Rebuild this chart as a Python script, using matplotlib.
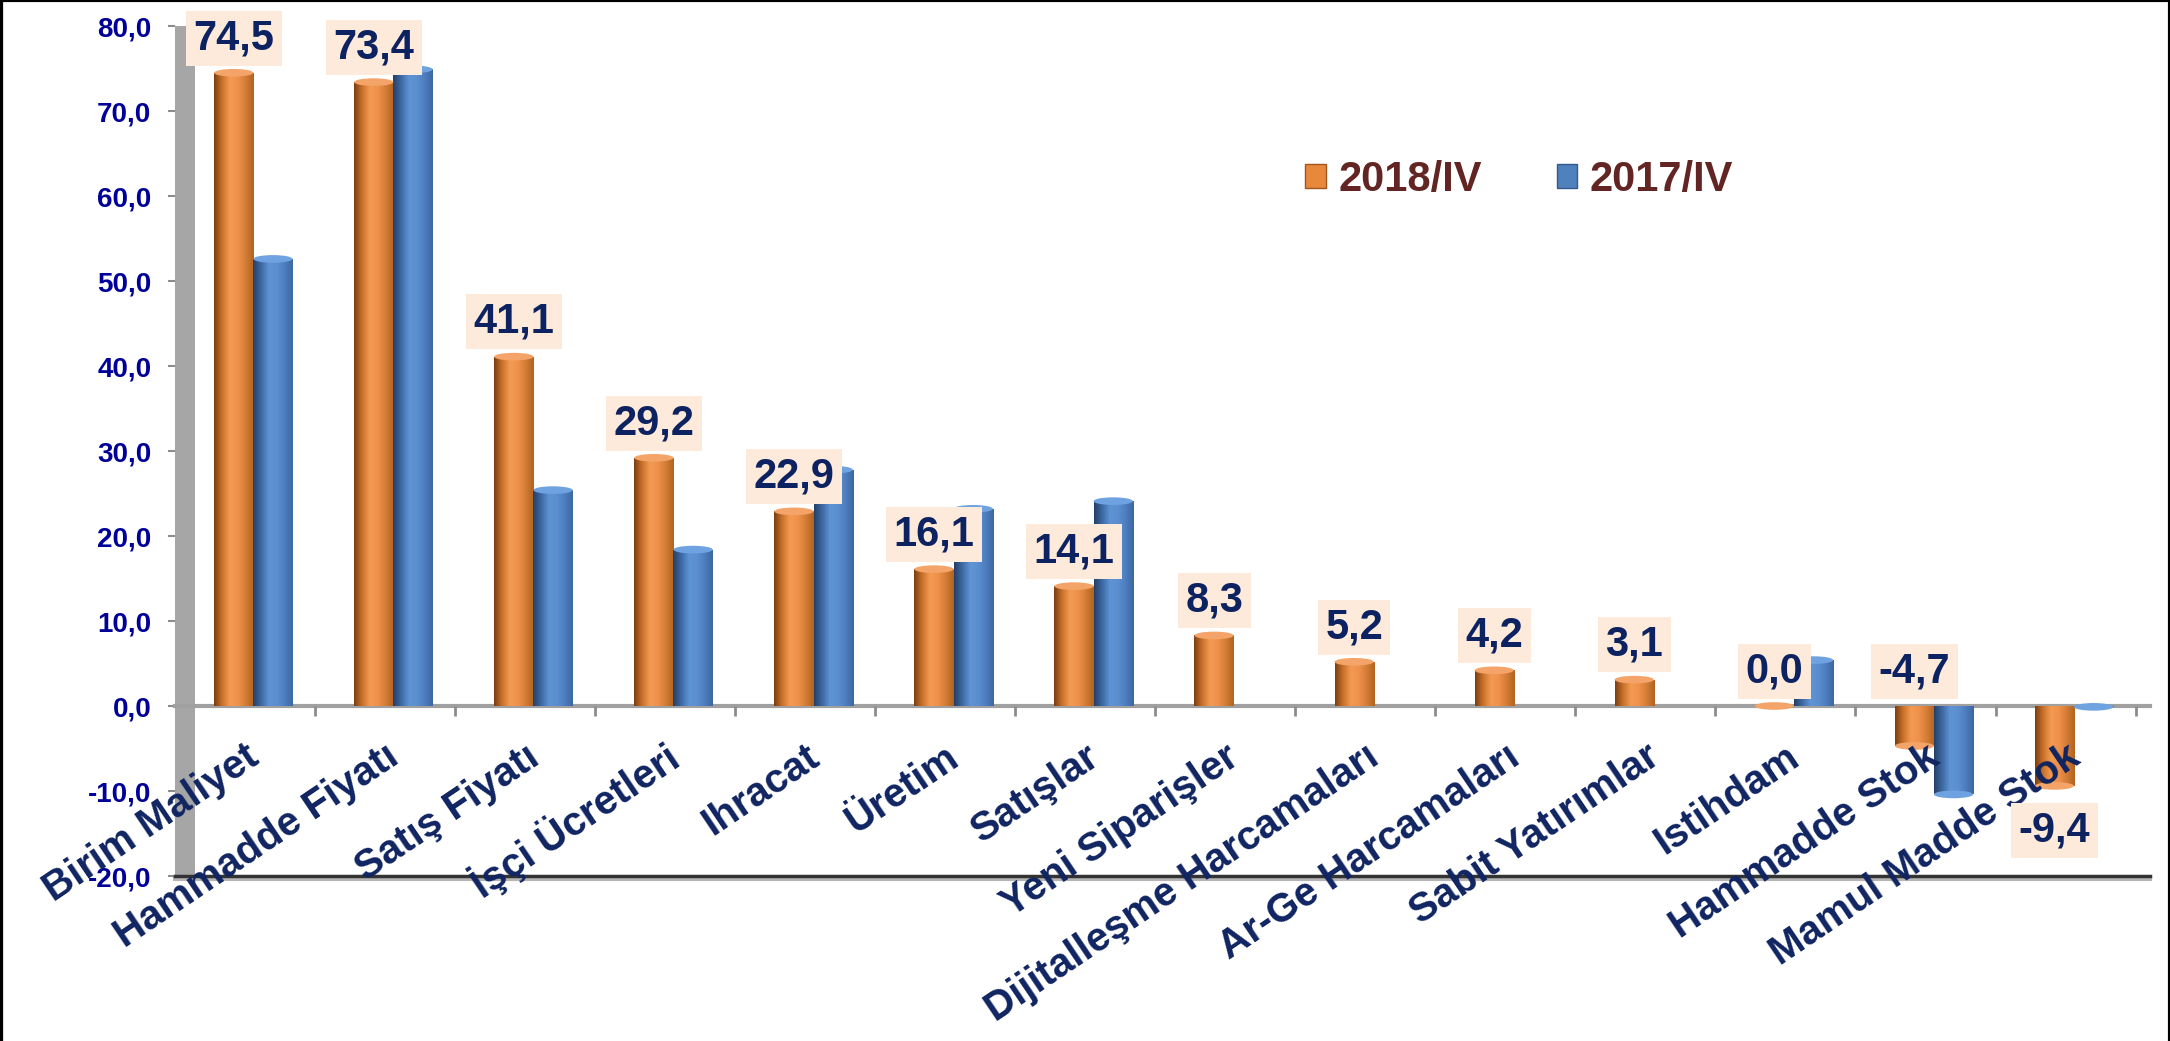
import matplotlib
matplotlib.use('Agg')
import matplotlib.pyplot as plt
import numpy as np
from matplotlib.colors import LinearSegmentedColormap
from matplotlib.patches import Patch, Rectangle, Ellipse
from matplotlib.lines import Line2D
from matplotlib.transforms import ScaledTranslation

# Data
categories = ['Birim Maliyet', 'Hammadde Fiyatı', 'Satış Fiyatı', 'İşçi Ücretleri',
              'Ihracat', 'Üretim', 'Satışlar', 'Yeni Siparişler',
              'Dijitalleşme Harcamaları', 'Ar-Ge Harcamaları', 'Sabit Yatırımlar',
              'Istihdam', 'Hammadde Stok', 'Mamul Madde Stok']
v2018 = [74.5, 73.4, 41.1, 29.2, 22.9, 16.1, 14.1, 8.3, 5.2, 4.2, 3.1, 0.0, -4.7, -9.4]
v2017 = [52.6, 74.9, 25.4, 18.4, 27.8, 23.2, 24.1, np.nan, np.nan, np.nan, np.nan,
         5.4, -10.4, -0.1]
series = ['2018/IV', '2017/IV']
yticks = list(range(-20, 81, 10))

narrow = ['Liberation Sans Narrow', 'Liberation Sans', 'DejaVu Sans']
wide = ['Liberation Sans', 'DejaVu Sans']

fig = plt.figure(figsize=(21.7, 10.41), dpi=100)
ax = fig.add_axes([0.0806, 0.1585, 0.910, 0.8165])

x = np.arange(len(categories))
w = 0.28
off = 0.06
b18 = ax.bar(x + off - w / 2, v2018, w, color='#F0924A', zorder=3)
b17 = ax.bar(x + off + w / 2, v2017, w, color='#5B8FD0', zorder=3)

# cylinder look: horizontal gradient clipped to each bar + end cap
orange_cm = LinearSegmentedColormap.from_list(
    'o', ['#7A3E10', '#C8702A', '#F39A52', '#F0914A', '#D27C36', '#B0631F'])
blue_cm = LinearSegmentedColormap.from_list(
    'b', ['#243F66', '#3C68A2', '#5E93D4', '#5B8FD0', '#4D7DBF', '#3D679F'])
grad = np.linspace(0, 1, 256).reshape(1, -1)


def cylinder(bars, cmap, cap):
    for p in bars:
        h = p.get_height()
        if np.isnan(h):
            continue
        x0, wd, y0 = p.get_x(), p.get_width(), p.get_y()
        if h != 0:
            im = ax.imshow(grad, cmap=cmap, aspect='auto', interpolation='bicubic',
                           extent=(x0, x0 + wd, y0, y0 + h), zorder=3.5)
            im.set_clip_path(p)
        ax.add_patch(Ellipse((x0 + wd / 2, y0 + h), wd, 0.9, facecolor=cap,
                             edgecolor='none', zorder=4))


cylinder(b18, orange_cm, '#F4A468')
cylinder(b17, blue_cm, '#6FA2E0')

ax.set_xlim(-0.5, 13.6)
ax.set_ylim(-20, 80)

# axes styling
for s in ['left', 'top', 'right']:
    ax.spines[s].set_visible(False)
ax.spines['bottom'].set_position(('data', 0))
ax.spines['bottom'].set_color('#A0A0A0')
ax.spines['bottom'].set_linewidth(3)
ax.spines['bottom'].set_zorder(2)

ax.add_patch(Rectangle((0, 0), 20 / 1975, 1, transform=ax.transAxes,
                       facecolor='#A6A6A6', edgecolor='none', zorder=1, clip_on=False))
ax.axhline(-20.35, color='#B5B5B5', lw=3, zorder=1.5, clip_on=False)
ax.axhline(-20, color='#333333', lw=2.5, zorder=2, clip_on=False)

ax.set_yticks(yticks)
ax.set_yticklabels([f'{t:.1f}'.replace('.', ',') for t in yticks],
                   fontsize=20, fontweight='bold', family=narrow, color='#000099')
ax.tick_params(axis='y', direction='out', length=5, width=1.5, color='#8C8C8C', pad=12)

ax.set_xticks(x)
ax.set_xticklabels(categories, rotation=34, ha='right', va='center',
                   rotation_mode='anchor', fontsize=29, fontweight='bold',
                   family=wide, color='#0F2461')
ax.set_xticks(np.arange(0.5, 14, 1), minor=True)
ax.tick_params(axis='x', which='major', length=0, pad=34)
ax.tick_params(axis='x', which='minor', direction='out', length=7, width=2, color='#8C8C8C')
shift = ScaledTranslation(0.1, 0, fig.dpi_scale_trans)
for lab in ax.get_xticklabels():
    lab.set_transform(lab.get_transform() + shift)
# category names sit on top of the negative bars, as in the original
ax.xaxis.set_zorder(5)

# data labels for 2018
for p, v in zip(b18, v2018):
    xc = p.get_x() + p.get_width() / 2
    if v > -5:
        anchor, dy = max(v, 0), 25
    else:
        anchor, dy = v, -32
    ax.annotate(f'{v:.1f}'.replace('.', ','), (xc, anchor), xytext=(0, dy),
                textcoords='offset points', ha='center', va='center',
                fontsize=30, fontweight='bold', family=narrow, color='#0D2260',
                bbox=dict(boxstyle='square,pad=0.18', fc='#FDEADA', ec='none'), zorder=6)

handles = [Patch(facecolor='#E8883A', edgecolor='#A0561C'),
           Patch(facecolor='#4F81BD', edgecolor='#34598A')]
leg = fig.legend(handles, series, loc='center', bbox_to_anchor=(0.70, 0.827), ncol=2,
                 frameon=False, prop=dict(family=wide, weight='bold', size=30),
                 handlelength=0.5, handleheight=0.5, handletextpad=0.3, columnspacing=1.8)
for t in leg.get_texts():
    t.set_color('#632523')

# black frame on left, top, right
fig.add_artist(Line2D([0, 0], [0, 1], transform=fig.transFigure, color='black', lw=4.5))
fig.add_artist(Line2D([0, 1], [1, 1], transform=fig.transFigure, color='black', lw=3))
fig.add_artist(Line2D([1, 1], [0, 1], transform=fig.transFigure, color='black', lw=3))

fig.savefig('out.png', dpi=100)
